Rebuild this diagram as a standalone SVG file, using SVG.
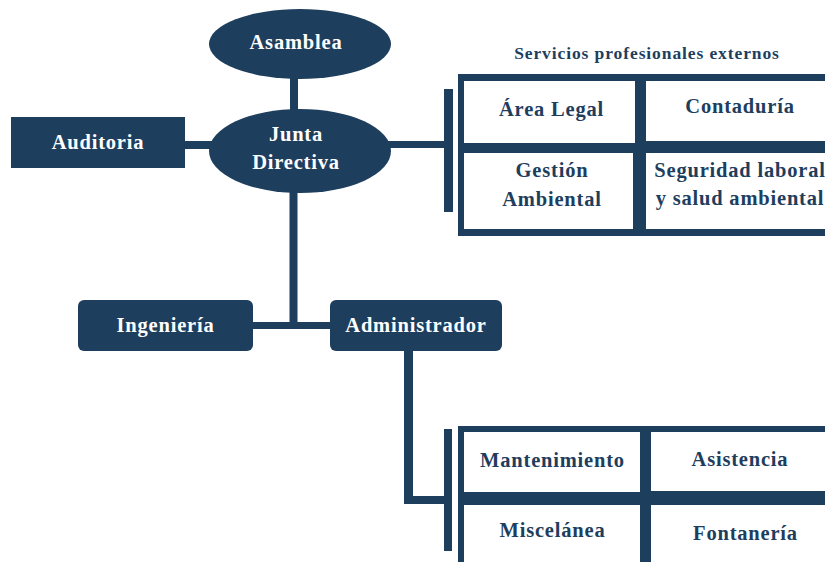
<svg xmlns="http://www.w3.org/2000/svg" width="825" height="562" viewBox="0 0 825 562">
<style>
.n{fill:#1e3e5e}
.w{fill:#ffffff}
.t{font-family:"Liberation Serif","Times New Roman",serif;font-weight:bold;font-size:20.5px;letter-spacing:0.8px;text-anchor:middle}
.tw{fill:#ffffff}
.td{fill:#1e3e5e}
.c{stroke:#1e3e5e;fill:none}
</style>
<rect width="825" height="562" fill="#ffffff"/>
<g id="connectors">
<line class="c" x1="294" y1="76" x2="294" y2="112" stroke-width="8"/>
<line class="c" x1="183" y1="145" x2="215" y2="145" stroke-width="8"/>
<line class="c" x1="385" y1="144.5" x2="452" y2="144.5" stroke-width="7"/>
<line class="c" x1="448.5" y1="89" x2="448.5" y2="212" stroke-width="9"/>
<line class="c" x1="293.5" y1="190" x2="293.5" y2="326" stroke-width="8"/>
<line class="c" x1="251" y1="325.5" x2="332" y2="325.5" stroke-width="7"/>
<line class="c" x1="408.5" y1="349" x2="408.5" y2="504" stroke-width="9"/>
<line class="c" x1="404" y1="500" x2="446" y2="500" stroke-width="8"/>
<line class="c" x1="448" y1="429" x2="448" y2="551" stroke-width="8"/>
</g>
<g id="asamblea">
<ellipse class="n" cx="300" cy="44" rx="91" ry="35"/>
<text class="t tw" x="296" y="49">Asamblea</text>
</g>
<g id="junta">
<ellipse class="n" cx="300" cy="151" rx="91" ry="42"/>
<text class="t tw" x="296" y="141">Junta</text>
<text class="t tw" x="296" y="169">Directiva</text>
</g>
<g id="auditoria">
<rect class="n" x="11" y="117" width="174" height="51"/>
<text class="t tw" x="98" y="149">Auditoria</text>
</g>
<g id="ingenieria">
<rect class="n" x="78" y="300" width="175" height="51" rx="6"/>
<text class="t tw" x="165.5" y="332">Ingeniería</text>
</g>
<g id="administrador">
<rect class="n" x="330" y="300" width="172" height="51" rx="6"/>
<text class="t tw" x="416" y="332">Administrador</text>
</g>
<g id="servicios">
<text class="t td" x="647" y="59" style="font-size:17.5px;letter-spacing:0.9px">Servicios profesionales externos</text>
<rect class="n" x="458" y="74" width="380" height="162"/>
<rect class="w" x="464" y="81" width="171" height="62"/>
<rect class="w" x="646" y="81" width="190" height="60"/>
<rect class="w" x="464" y="153" width="169" height="76"/>
<rect class="w" x="646" y="153" width="190" height="76"/>
</g>
<g id="area-legal"><text class="t td" x="551.5" y="116">Área Legal</text></g>
<g id="contaduria"><text class="t td" x="740" y="113">Contaduría</text></g>
<g id="gestion-ambiental"><text class="t td" x="552" y="177">Gestión</text><text class="t td" x="552" y="206">Ambiental</text></g>
<g id="seguridad"><text class="t td" x="740" y="177">Seguridad laboral</text><text class="t td" x="740" y="205">y salud ambiental</text></g>
<g id="servicios-internos">
<rect class="n" x="458" y="426" width="380" height="150"/>
<rect class="w" x="464" y="432" width="176" height="60"/>
<rect class="w" x="651" y="432" width="185" height="59"/>
<rect class="w" x="464" y="505" width="176" height="80"/>
<rect class="w" x="651" y="505" width="185" height="80"/>
</g>
<g id="mantenimiento"><text class="t td" x="552.5" y="467">Mantenimiento</text></g>
<g id="asistencia"><text class="t td" x="740" y="466">Asistencia</text></g>
<g id="miscelanea"><text class="t td" x="552.5" y="537">Miscelánea</text></g>
<g id="fontaneria"><text class="t td" x="745.5" y="540">Fontanería</text></g>
</svg>
